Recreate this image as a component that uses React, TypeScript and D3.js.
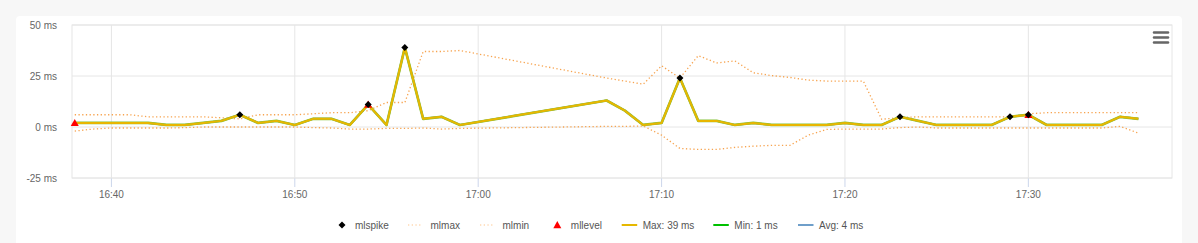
import React from "react";
import * as d3 from "d3";

const times = [
  "16:38","16:39","16:40","16:41","16:42","16:43","16:44","16:45","16:46","16:47",
  "16:48","16:49","16:50","16:51","16:52","16:53","16:54","16:55","16:56","16:57",
  "16:58","16:59","17:07","17:08","17:09","17:10","17:11","17:12","17:13","17:14",
  "17:15","17:16","17:17","17:18","17:19","17:20","17:21","17:22","17:23","17:24",
  "17:25","17:26","17:27","17:28","17:29","17:30","17:31","17:32","17:33","17:34",
  "17:35","17:36",
];
const mainValues = [
  2,2,2,2,2,1,1,2,3,6,
  2,3,1,4,4,1,11,1,39,4,
  5,1,13,8,1,2,24,3,3,1,
  2,1,1,1,1,2,1,1,5,3,
  1,1,1,1,5,6,1,1,1,1,
  5,4,
];
const mlmaxValues = [
  6,6,6,6,5,5,5,5,4.5,4,
  6,6,6,6.5,7,7,8,12,12,37,
  37,37.5,24,22.5,21,30,24,35,31.4,32.4,
  26.6,25.2,24.3,23,22.5,22.5,22.5,3.8,4.6,5,
  5,5,5,5,5,6.5,7,7,7,7,
  7,7,
];
const mlminValues = [
  -2,-1,-0.5,-0.5,-0.5,-0.5,-0.3,0,0,0,
  0,0,0,-0.3,-0.5,-1,-1,-0.7,-0.7,-0.5,
  -1,-0.7,0.3,0.3,0.5,-4,-10.5,-11,-11,-10,
  -9.4,-9,-9,-4,-1.2,-1,-1,-1,-0.3,0,
  -0.5,-0.5,-0.5,-0.5,-0.5,-0.5,-0.5,-0.5,-0.5,-0.5,
  0.3,-3,
];
const spikeTimes = ["16:47","16:54","16:56","17:11","17:23","17:29","17:30"];
const spikeValues = [6,11,39,24,5,5,6];
const levelTimes = ["16:38","16:54","17:30"];
const levelValues = [2,11,6];
const yTicks = [-25, 0, 25, 50];
const xTickLabels = ["16:40","16:50","17:00","17:10","17:20","17:30"];
const legendLabels = ["mlspike","mlmax","mlmin","mllevel","Max: 39 ms","Min: 1 ms","Avg: 4 ms"];

const toDate = (s: string) => {
  const [h, m] = s.split(":").map(Number);
  return new Date(2024, 0, 1, h, m, 0);
};

const W = 1198, H = 243;
const plotL = 72, plotR = 1172, plotT = 25, plotB = 178;

export default function App() {
  const x = d3.scaleTime()
    .domain([new Date(2024,0,1,16,37,51), new Date(2024,0,1,17,37,50)])
    .range([plotL, plotR]);
  const y = d3.scaleLinear().domain([-25, 50]).range([plotB, plotT]);

  const mainData = times.map((t, i) => ({ t: toDate(t), v: mainValues[i] }));
  const maxData = times.map((t, i) => ({ t: toDate(t), v: mlmaxValues[i] }));
  const minData = times.map((t, i) => ({ t: toDate(t), v: mlminValues[i] }));
  const line = d3.line<{ t: Date; v: number }>().x(d => x(d.t)).y(d => y(d.v));

  const font = "'Liberation Sans', Arial, sans-serif";
  const dotColor = "#f7a450";
  const legendY = 226;

  const diamond = (cx: number, cy: number, r: number) =>
    `M${cx},${cy - r}L${cx + r},${cy}L${cx},${cy + r}L${cx - r},${cy}Z`;
  const triangle = (cx: number, cy: number, r: number) =>
    `M${cx},${cy - r}L${cx + r},${cy + r * 0.8}L${cx - r},${cy + r * 0.8}Z`;

  const legendPos = [342, 408, 480, 557.3, 621.7, 713.3, 798];
  const lineLegendColors: Record<number, string> = { 4: "#e6b800", 5: "#00c000", 6: "#6f9fca" };

  return (
    <svg width={W} height={H} style={{ position: "absolute", left: 0, top: 0, fontFamily: font }}>
      <rect x={0} y={0} width={W} height={H} fill="#f7f7f7" />
      <rect x={16} y={16} width={1166} height={240} rx={4} fill="#ffffff" />
      {/* grid */}
      {yTicks.map(t => (
        <line key={"gy" + t} x1={plotL} x2={plotR} y1={y(t)} y2={y(t)} stroke="#e6e6e6" strokeWidth={1} />
      ))}
      {xTickLabels.map(s => (
        <g key={"gx" + s}>
          <line x1={x(toDate(s))} x2={x(toDate(s))} y1={plotT} y2={plotB} stroke="#e6e6e6" />
          <line x1={x(toDate(s))} x2={x(toDate(s))} y1={plotB} y2={plotB + 9} stroke="#ccd6eb" />
          <text x={x(toDate(s))} y={plotB + 20} textAnchor="middle" fontSize={10} fill="#666">{s}</text>
        </g>
      ))}
      <rect x={plotL} y={plotT} width={plotR - plotL} height={plotB - plotT} fill="none" stroke="#e6e6e6" />
      {yTicks.map(t => (
        <text key={"yl" + t} x={57} y={y(t) + 3.5} textAnchor="end" fontSize={10} fill="#666">{t} ms</text>
      ))}
      {/* ml bands */}
      <path d={line(maxData) || ""} fill="none" stroke={dotColor} strokeWidth={1.3} strokeDasharray="1.3,2.4" />
      <path d={line(minData) || ""} fill="none" stroke={dotColor} strokeWidth={1.3} strokeDasharray="1.3,2.4" />
      {/* series */}
      <path d={line(mainData) || ""} fill="none" stroke="#6f9fca" strokeWidth={2} strokeLinejoin="round" />
      <path d={line(mainData) || ""} fill="none" stroke="#86c23a" strokeWidth={2.7} strokeLinejoin="round" />
      <path d={line(mainData) || ""} fill="none" stroke="#e8b600" strokeWidth={2} strokeLinejoin="round" />
      {levelTimes.map((t, i) => (
        <path key={"lv" + t} d={triangle(x(toDate(t)), y(levelValues[i]), 4)} fill="#ff0000" />
      ))}
      {spikeTimes.map((t, i) => (
        <path key={"sp" + t} d={diamond(x(toDate(t)), y(spikeValues[i]), 3.5)} fill="#000" />
      ))}
      {/* menu icon */}
      {[32.5, 37.5, 42.5].map(yy => (
        <line key={"m" + yy} x1={1154} x2={1168} y1={yy} y2={yy} stroke="#666" strokeWidth={2.5} strokeLinecap="round" />
      ))}
      {/* legend */}
      {legendLabels.map((lab, i) => {
        const px = legendPos[i];
        let sym: React.ReactNode = null;
        let tx = px + 21;
        if (i === 0) { sym = <path d={diamond(px, legendY - 1, 3.5)} fill="#000" />; tx = px + 13; }
        else if (i === 3) { sym = <path d={triangle(px, legendY - 1, 4)} fill="#ff0000" />; tx = px + 13.5; }
        else if (i === 1 || i === 2) {
          sym = <line x1={px} x2={px + 14} y1={legendY - 1} y2={legendY - 1} stroke="#ffd9b3" strokeWidth={1.5} strokeDasharray="1.3,2.4" />;
          tx = px + 22.5;
        } else {
          sym = <line x1={px} x2={px + 15.5} y1={legendY - 1} y2={legendY - 1} stroke={lineLegendColors[i]} strokeWidth={2} />;
        }
        return (
          <g key={"lg" + i}>
            {sym}
            <text x={tx} y={legendY + 3} fontSize={10} fill="#555">{lab}</text>
          </g>
        );
      })}
    </svg>
  );
}
